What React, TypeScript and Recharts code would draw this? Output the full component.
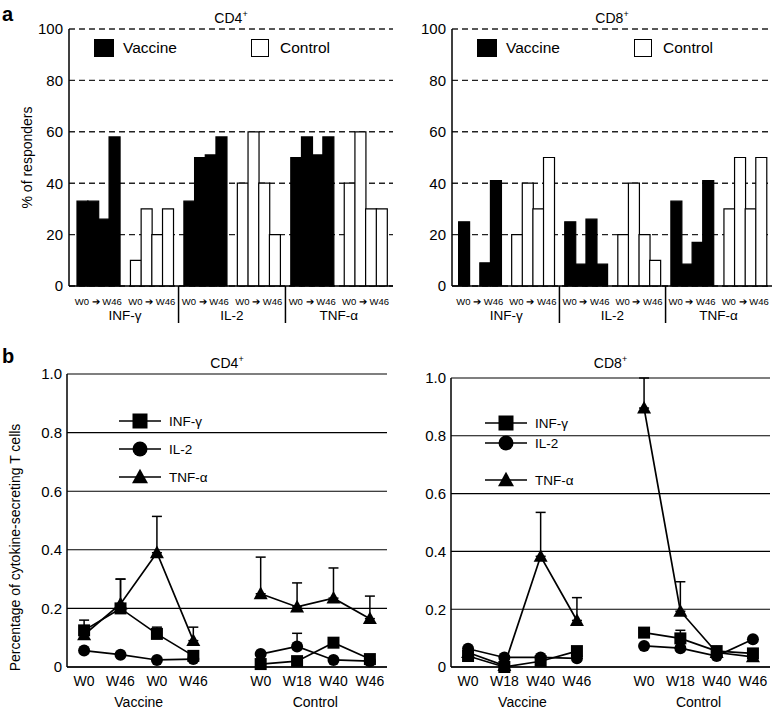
import React from "react";
import {
  BarChart,
  Bar,
  Cell,
  LineChart,
  Line,
  ErrorBar,
  XAxis,
  YAxis,
  CartesianGrid,
  Legend,
} from "recharts";

const cytokines = ["INF-γ", "IL-2", "TNF-α"];

// panel a: % of responders, 4 time points W0 -> W46 per arm
const cd4Vaccine = [
  [33, 33, 26, 58],
  [33, 50, 51, 58],
  [50, 58, 51, 58],
];
const cd4Control = [
  [10, 30, 20, 30],
  [40, 60, 40, 20],
  [40, 60, 30, 30],
];
const cd8Vaccine = [
  [25, 0, 9, 41],
  [25, 8.5, 26, 8.5],
  [33, 8.5, 17, 41],
];
const cd8Control = [
  [20, 40, 30, 50],
  [20, 40, 20, 10],
  [30, 50, 30, 50],
];
const pctTicks = [0, 20, 40, 60, 80, 100];

// panel b: % cytokine-secreting T cells
const cd4VacWeeks = ["W0", "W46", "W0", "W46"];
const cd8VacWeeks = ["W0", "W18", "W40", "W46"];
const ctlWeeks = ["W0", "W18", "W40", "W46"];
const armNames = ["Vaccine", "Control"];
const fracTicks = [0, 0.2, 0.4, 0.6, 0.8, 1.0];

const cd4VacInf = [0.125, 0.2, 0.113, 0.038];
const cd4VacIl2 = [0.056, 0.042, 0.024, 0.027];
const cd4VacTnf = [0.11, 0.215, 0.39, 0.09];
const cd4CtlInf = [0.01, 0.02, 0.083, 0.027];
const cd4CtlIl2 = [0.044, 0.07, 0.024, 0.02];
const cd4CtlTnf = [0.25, 0.205, 0.235, 0.165];
// upper error only
const cd4VacInfErr = [0.035, 0.1, 0.023, null];
const cd4VacTnfErr = [null, 0.085, 0.124, 0.046];
const cd4CtlIl2Err = [null, 0.045, null, null];
const cd4CtlTnfErr = [0.125, 0.082, 0.103, 0.077];

const cd8VacInf = [0.038, 0.0, 0.02, 0.055];
const cd8VacIl2 = [0.063, 0.033, 0.033, 0.03];
const cd8VacTnf = [0.05, 0.005, 0.383, 0.161];
const cd8CtlInf = [0.119, 0.099, 0.055, 0.047];
const cd8CtlIl2 = [0.073, 0.065, 0.038, 0.096];
const cd8CtlTnf = [0.896, 0.193, 0.05, 0.035];
const cd8VacTnfErr = [null, null, 0.152, 0.079];
const cd8CtlInfErr = [null, 0.028, null, null];
const cd8CtlTnfErr = [0.104, 0.102, null, null];

const FONT = "'Liberation Sans', Arial, Helvetica, sans-serif";
const CTL_SHIFT = 4.85; // control arm starts after a gap
const X_DOMAIN = [-0.47, 8.32];

const buildBars = (vac: number[][], ctl: number[][]) => {
  const rows: any[] = [];
  cytokines.forEach((_, g) => {
    vac[g].forEach((v, i) => rows.push({ slot: `v${g}${i}`, value: v, arm: "vac" }));
    rows.push({ slot: `gap${g}`, value: null, arm: null });
    ctl[g].forEach((v, i) => rows.push({ slot: `c${g}${i}`, value: v, arm: "ctl" }));
    if (g < cytokines.length - 1) rows.push({ slot: `div${g}`, value: null, arm: null });
  });
  return rows;
};

const toErr = (e: number | null) => (e == null ? undefined : [0, e]);

const buildLines = (
  vac: number[][],
  ctl: number[][],
  vacErr: (number | null)[][],
  ctlErr: (number | null)[][]
) => {
  const rows: any[] = [];
  for (let i = 0; i < 4; i++) {
    rows.push({
      x: i,
      inf: vac[0][i],
      il2: vac[1][i],
      tnf: vac[2][i],
      infErr: toErr(vacErr[0][i]),
      il2Err: toErr(vacErr[1][i]),
      tnfErr: toErr(vacErr[2][i]),
    });
  }
  rows.push({ x: 4, inf: null, il2: null, tnf: null });
  for (let i = 0; i < 4; i++) {
    rows.push({
      x: i + CTL_SHIFT,
      inf: ctl[0][i],
      il2: ctl[1][i],
      tnf: ctl[2][i],
      infErr: toErr(ctlErr[0][i]),
      il2Err: toErr(ctlErr[1][i]),
      tnfErr: toErr(ctlErr[2][i]),
    });
  }
  return rows;
};

const none4 = [null, null, null, null];

const barPanels = [
  {
    title: "CD4",
    left: 0,
    width: 400,
    marginLeft: 29,
    marginRight: 7,
    padL: 8,
    padR: 6,
    rows: buildBars(cd4Vaccine, cd4Control),
    yLabel: true,
  },
  {
    title: "CD8",
    left: 400,
    width: 376,
    marginLeft: 12,
    marginRight: 4,
    padL: 6.6,
    padR: 5.6,
    rows: buildBars(cd8Vaccine, cd8Control),
    yLabel: false,
  },
];

const linePanels = [
  {
    title: "CD4",
    left: 0,
    width: 400,
    margin: { top: 29, right: 13, left: 22, bottom: 0 },
    vacWeeks: cd4VacWeeks,
    rows: buildLines(
      [cd4VacInf, cd4VacIl2, cd4VacTnf],
      [cd4CtlInf, cd4CtlIl2, cd4CtlTnf],
      [cd4VacInfErr, none4, cd4VacTnfErr],
      [none4, cd4CtlIl2Err, cd4CtlTnfErr]
    ),
    legend: { top: 68, left: 119, rows: [8, 36, 64] },
    yLabel: true,
  },
  {
    title: "CD8",
    left: 400,
    width: 376,
    margin: { top: 33, right: 6, left: 6, bottom: 0 },
    vacWeeks: cd8VacWeeks,
    rows: buildLines(
      [cd8VacInf, cd8VacIl2, cd8VacTnf],
      [cd8CtlInf, cd8CtlIl2, cd8CtlTnf],
      [none4, none4, cd8VacTnfErr],
      [cd8CtlInfErr, none4, cd8CtlTnfErr]
    ),
    legend: { top: 70, left: 85, rows: [8, 28, 65] },
    yLabel: false,
  },
];

const Marker = ({ shape, cx, cy, size }: any) => {
  if (cx == null || cy == null || isNaN(cx) || isNaN(cy)) return <g />;
  const h = size / 2;
  if (shape === "square")
    return <rect x={cx - h} y={cy - h} width={size} height={size} fill="#000" />;
  if (shape === "circle") return <circle cx={cx} cy={cy} r={h} fill="#000" />;
  return (
    <polygon
      points={`${cx},${cy - size * 0.55} ${cx - h - 0.5},${cy + size * 0.42} ${cx + h + 0.5},${cy + size * 0.42}`}
      fill="#000"
    />
  );
};

const shapes = ["square", "circle", "triangle"];
const seriesKeys = ["inf", "il2", "tnf"];

function BarPanel({ cfg }: any) {
  const plotW = cfg.width - cfg.marginLeft - cfg.marginRight - 40;
  const bw = (plotW - cfg.padL - cfg.padR) / cfg.rows.length;
  const plotLeft = cfg.marginLeft + 40;

  const weekTick = (p: any) => {
    const s = String(p.payload.value);
    if (!/^[vc]\d1$/.test(s)) return <g />;
    return (
      <text
        x={p.x + bw / 2}
        y={p.y + 15}
        textAnchor="middle"
        dominantBaseline="central"
        fontSize={9.5}
        fill="#000"
      >
        W0 ➔ W46
      </text>
    );
  };

  const cytoTick = (p: any) => {
    const s = String(p.payload.value);
    if (s.startsWith("gap")) {
      const g = Number(s.slice(3));
      return (
        <text x={p.x} y={p.y + 15} textAnchor="middle" dominantBaseline="central" fontSize={13.5} fill="#000">
          {cytokines[g]}
        </text>
      );
    }
    if (s.startsWith("div")) {
      return <line x1={p.x} x2={p.x} y1={p.y - 14} y2={p.y + 23} stroke="#000" strokeWidth={1.5} />;
    }
    return <g />;
  };

  return (
    <div style={{ position: "absolute", left: cfg.left, top: 0 }}>
      <BarChart
        width={cfg.width}
        height={340}
        data={cfg.rows}
        barCategoryGap={0}
        barGap={0}
        margin={{ top: 29, right: cfg.marginRight, left: cfg.marginLeft, bottom: 0 }}
      >
        <CartesianGrid vertical={false} stroke="#222" strokeWidth={1.4} strokeDasharray="6 4" />
        <XAxis
          dataKey="slot"
          interval={0}
          height={14}
          tickSize={0}
          tickMargin={0}
          tickLine={false}
          axisLine={{ stroke: "#000", strokeWidth: 1.5 }}
          padding={{ left: cfg.padL, right: cfg.padR }}
          tick={weekTick}
        />
        <XAxis
          xAxisId="cyto"
          dataKey="slot"
          interval={0}
          height={40}
          tickSize={0}
          tickMargin={0}
          tickLine={false}
          axisLine={false}
          padding={{ left: cfg.padL, right: cfg.padR }}
          tick={cytoTick}
        />
        <XAxis
          xAxisId="top"
          orientation="top"
          dataKey="slot"
          height={0}
          tick={false}
          tickLine={false}
          axisLine={{ stroke: "#000", strokeWidth: 1.5 }}
        />
        <YAxis
          domain={[0, 100]}
          ticks={pctTicks}
          width={40}
          tickSize={0}
          tickMargin={6}
          tickLine={false}
          axisLine={{ stroke: "#000", strokeWidth: 1.5 }}
          tick={{ fontSize: 15, fill: "#000" }}
          label={
            cfg.yLabel
              ? (p: any) => {
                  const vb = p.viewBox;
                  const cx = vb.x - 2;
                  const cy = vb.y + vb.height / 2;
                  return (
                    <text
                      x={cx}
                      y={cy}
                      transform={`rotate(-90 ${cx} ${cy})`}
                      textAnchor="middle"
                      dominantBaseline="central"
                      fontSize={14}
                      fill="#000"
                    >
                      % of responders
                    </text>
                  );
                }
              : undefined
          }
        />
        <YAxis
          yAxisId="right"
          orientation="right"
          width={0}
          tick={false}
          tickLine={false}
          axisLine={{ stroke: "#000", strokeWidth: 1.5 }}
        />
        <Legend
          layout="horizontal"
          verticalAlign="middle"
          align="center"
          wrapperStyle={{ top: 39, left: plotLeft + 25, width: 260, height: 20 }}
          content={() => (
            <div style={{ position: "relative", width: 260, height: 20, fontSize: 15.5, color: "#000" }}>
              <div style={{ position: "absolute", left: 0, top: 0, width: 20, height: 18, background: "#000" }} />
              <div style={{ position: "absolute", left: 29, top: 0, lineHeight: "18px" }}>Vaccine</div>
              <div
                style={{
                  position: "absolute",
                  left: 157,
                  top: 0,
                  width: 18,
                  height: 18,
                  boxSizing: "border-box",
                  border: "1.3px solid #000",
                  background: "#fff",
                }}
              />
              <div style={{ position: "absolute", left: 186, top: 0, lineHeight: "18px" }}>Control</div>
            </div>
          )}
        />
        <Bar dataKey="value" isAnimationActive={false} stroke="#000" strokeWidth={1.2}>
          {cfg.rows.map((r: any) => (
            <Cell key={r.slot} fill={r.arm === "vac" ? "#000" : "#fff"} />
          ))}
        </Bar>
      </BarChart>
    </div>
  );
}

function LinePanel({ cfg }: any) {
  const weekTicks = [0, 1, 2, 3, CTL_SHIFT, CTL_SHIFT + 1, CTL_SHIFT + 2, CTL_SHIFT + 3];
  const weekNames = [...cfg.vacWeeks, ...ctlWeeks];
  const armTicks = [1.5, CTL_SHIFT + 1.5];

  return (
    <div style={{ position: "absolute", left: cfg.left, top: 345 }}>
      <LineChart width={cfg.width} height={369} data={cfg.rows} margin={cfg.margin}>
        <CartesianGrid vertical={false} stroke="#000" strokeWidth={1.1} />
        <XAxis
          dataKey="x"
          type="number"
          domain={X_DOMAIN}
          ticks={weekTicks}
          interval={0}
          height={20}
          tickSize={0}
          tickMargin={9}
          tickLine={false}
          axisLine={{ stroke: "#000", strokeWidth: 1.5 }}
          tick={{ fontSize: 14, fill: "#000" }}
          tickFormatter={(v: number) => weekNames[weekTicks.indexOf(v)] ?? ""}
        />
        <XAxis
          xAxisId="arm"
          dataKey="x"
          type="number"
          domain={X_DOMAIN}
          ticks={armTicks}
          interval={0}
          height={27}
          tickSize={0}
          tickMargin={10}
          tickLine={false}
          axisLine={false}
          tick={{ fontSize: 14, fill: "#000" }}
          tickFormatter={(v: number) => armNames[armTicks.indexOf(v)] ?? ""}
        />
        <XAxis
          xAxisId="top"
          orientation="top"
          dataKey="x"
          type="number"
          domain={X_DOMAIN}
          height={0}
          tick={false}
          tickLine={false}
          axisLine={{ stroke: "#000", strokeWidth: 1.5 }}
        />
        <YAxis
          domain={[0, 1]}
          ticks={fracTicks}
          width={45}
          tickSize={0}
          tickMargin={5}
          tickLine={false}
          axisLine={{ stroke: "#000", strokeWidth: 1.5 }}
          tick={{ fontSize: 15, fill: "#000" }}
          tickFormatter={(v: number) => (v === 0 ? "0" : v.toFixed(1))}
          label={
            cfg.yLabel
              ? (p: any) => {
                  const vb = p.viewBox;
                  const cx = vb.x - 7;
                  const cy = vb.y + vb.height / 2 + 27;
                  return (
                    <text
                      x={cx}
                      y={cy}
                      transform={`rotate(-90 ${cx} ${cy})`}
                      textAnchor="middle"
                      dominantBaseline="central"
                      fontSize={14}
                      fill="#000"
                    >
                      Percentage of cytokine-secreting T cells
                    </text>
                  );
                }
              : undefined
          }
        />
        <YAxis
          yAxisId="right"
          orientation="right"
          width={0}
          tick={false}
          tickLine={false}
          axisLine={{ stroke: "#000", strokeWidth: 1.5 }}
        />
        <Legend
          layout="horizontal"
          verticalAlign="middle"
          align="center"
          wrapperStyle={{ top: cfg.legend.top, left: cfg.legend.left, width: 110, height: 75 }}
          content={() => (
            <svg width={110} height={75} style={{ display: "block", fontFamily: FONT }}>
              {cytokines.map((c, i) => {
                const ry = cfg.legend.rows[i];
                return (
                  <g key={c}>
                    <line x1={0} x2={42} y1={ry} y2={ry} stroke="#000" strokeWidth={1.6} />
                    <Marker shape={shapes[i]} cx={21} cy={ry} size={15} />
                    <text x={50} y={ry} dominantBaseline="central" fontSize={13.5} fill="#000">
                      {c}
                    </text>
                  </g>
                );
              })}
            </svg>
          )}
        />
        {seriesKeys.map((k, i) => (
          <Line
            key={k}
            dataKey={k}
            isAnimationActive={false}
            stroke="#000"
            strokeWidth={1.7}
            connectNulls={false}
            activeDot={false}
            dot={(p: any) => (
              <Marker key={`${k}-${p.index}`} shape={shapes[i]} cx={p.cx} cy={p.cy} size={i === 2 ? 13 : 12} />
            )}
          >
            <ErrorBar dataKey={`${k}Err`} direction="y" width={5} stroke="#000" strokeWidth={1.5} />
          </Line>
        ))}
      </LineChart>
    </div>
  );
}

const titleStyle: React.CSSProperties = {
  position: "absolute",
  textAlign: "center",
  fontSize: 14,
  lineHeight: "16px",
  color: "#000",
};

export default function App() {
  return (
    <div
      style={{
        position: "absolute",
        left: 0,
        top: 0,
        width: 776,
        height: 714,
        background: "#fff",
        fontFamily: FONT,
        overflow: "hidden",
      }}
    >
      <div style={{ position: "absolute", left: 2, top: 3, fontSize: 20, fontWeight: "bold", lineHeight: "22px" }}>
        a
      </div>
      <div style={{ position: "absolute", left: 2, top: 345, fontSize: 20, fontWeight: "bold", lineHeight: "22px" }}>
        b
      </div>
      <div style={{ ...titleStyle, left: 69, width: 324, top: 6 }}>
        CD4<sup style={{ fontSize: 9 }}>+</sup>
      </div>
      <div style={{ ...titleStyle, left: 452, width: 320, top: 6 }}>
        CD8<sup style={{ fontSize: 9 }}>+</sup>
      </div>
      <div style={{ ...titleStyle, left: 67, width: 320, top: 351 }}>
        CD4<sup style={{ fontSize: 9 }}>+</sup>
      </div>
      <div style={{ ...titleStyle, left: 451, width: 319, top: 351 }}>
        CD8<sup style={{ fontSize: 9 }}>+</sup>
      </div>
      {barPanels.map((cfg) => (
        <BarPanel key={cfg.title} cfg={cfg} />
      ))}
      {linePanels.map((cfg) => (
        <LinePanel key={cfg.title} cfg={cfg} />
      ))}
    </div>
  );
}
